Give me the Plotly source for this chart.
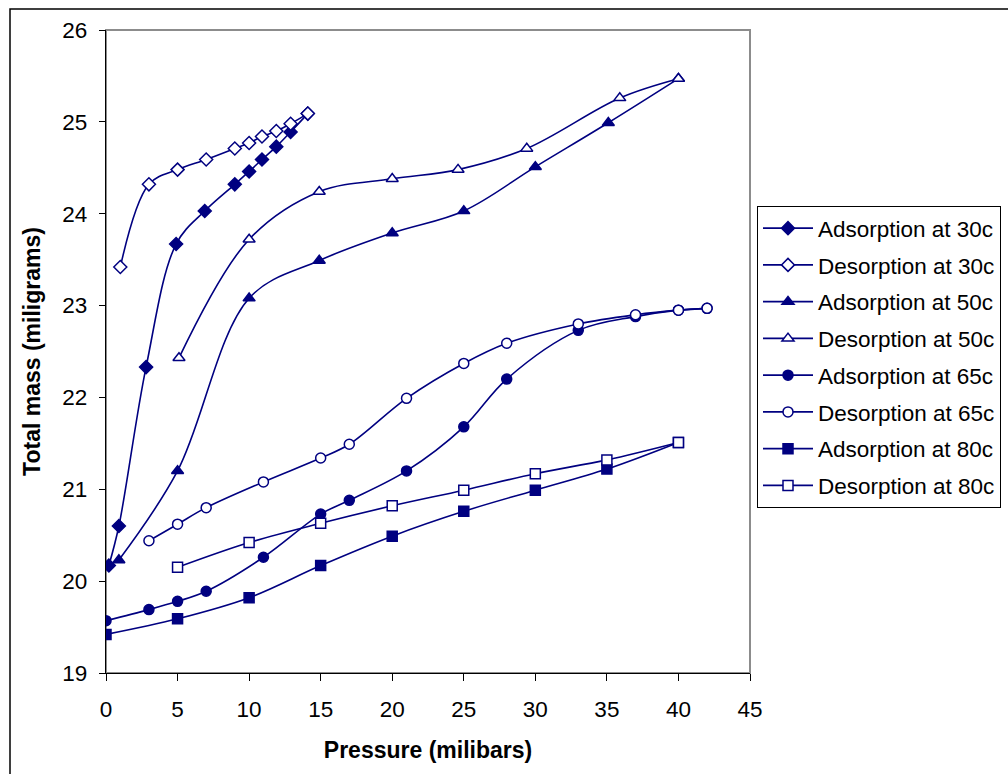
import plotly.graph_objects as go

# Pressure (milibars) and total mass (miligrams) for each isotherm run
ads30_p = [0.2, 0.9, 2.8, 4.9, 6.9, 9.0, 10.0, 10.9, 11.9, 12.9, 14.1]
ads30_m = [20.17, 20.60, 22.33, 23.67, 24.03, 24.32, 24.46, 24.59, 24.73, 24.89, 25.09]

des30_p = [14.1, 12.9, 11.9, 10.9, 10.0, 9.0, 7.0, 5.0, 3.0, 1.0]
des30_m = [25.09, 24.98, 24.90, 24.84, 24.77, 24.71, 24.59, 24.48, 24.32, 23.42]

ads50_p = [0.9, 5.0, 10.0, 14.9, 20.0, 25.0, 30.0, 35.1, 40.0]
ads50_m = [20.23, 21.20, 23.08, 23.49, 23.79, 24.03, 24.51, 24.99, 25.47]

des50_p = [40.0, 35.9, 29.4, 24.6, 20.0, 14.9, 10.0, 5.1]
des50_m = [25.47, 25.26, 24.71, 24.48, 24.38, 24.24, 23.72, 22.43]

ads65_p = [0.0, 3.0, 5.0, 7.0, 11.0, 15.0, 17.0, 21.0, 25.0, 28.0, 33.0, 37.0, 40.0, 42.0]
ads65_m = [19.57, 19.69, 19.78, 19.89, 20.26, 20.73, 20.88, 21.20, 21.68, 22.20, 22.73, 22.88, 22.95, 22.97]

des65_p = [42.0, 40.0, 37.0, 33.0, 28.0, 25.0, 21.0, 17.0, 15.0, 11.0, 7.0, 5.0, 3.0]
des65_m = [22.97, 22.95, 22.90, 22.80, 22.59, 22.37, 21.99, 21.49, 21.34, 21.08, 20.80, 20.62, 20.44]

ads80_p = [0.0, 5.0, 10.0, 15.0, 20.0, 25.0, 30.0, 35.0, 40.0]
ads80_m = [19.42, 19.59, 19.82, 20.17, 20.49, 20.76, 20.99, 21.22, 21.51]

des80_p = [40.0, 35.0, 30.0, 25.0, 20.0, 15.0, 10.0, 5.0]
des80_m = [21.51, 21.32, 21.17, 20.99, 20.82, 20.63, 20.42, 20.15]

series = [
    ("Adsorption at 30c", ads30_p, ads30_m, "diamond", True, 10),
    ("Desorption at 30c", des30_p, des30_m, "diamond", False, 10),
    ("Adsorption at 50c", ads50_p, ads50_m, "triangle-up", True, 10.5),
    ("Desorption at 50c", des50_p, des50_m, "triangle-up", False, 10.5),
    ("Adsorption at 65c", ads65_p, ads65_m, "circle", True, 10),
    ("Desorption at 65c", des65_p, des65_m, "circle", False, 10),
    ("Adsorption at 80c", ads80_p, ads80_m, "square", True, 10),
    ("Desorption at 80c", des80_p, des80_m, "square", False, 10),
]

NAVY = "#000080"
FONT = "Arial, Liberation Sans, sans-serif"
TXT = 22.5

fig = go.Figure()
for i, (name, p, m, sym, filled, size) in enumerate(series):
    fig.add_trace(go.Scatter(
        x=p, y=m, name=name, mode="lines+markers",
        legendgroup=f"g{i}",
        line=dict(color=NAVY, width=1.6, shape="spline", smoothing=1.0),
        marker=dict(symbol=sym, size=size,
                    color=NAVY if filled else "white",
                    line=dict(color=NAVY, width=1.5)),
    ))

W, H = 1008, 774
ml, mr, mt, mb = 106, 258, 30, 101
pw, ph = W - ml - mr, H - mt - mb

def px_x(v):
    return (v - ml) / pw

def px_y(v):
    return (H - mb - v) / ph

fig.update_layout(
    width=W, height=H,
    margin=dict(l=ml, r=mr, t=mt, b=mb, pad=0, autoexpand=False),
    paper_bgcolor="white", plot_bgcolor="white",
    font=dict(family=FONT, size=TXT, color="black"),
    showlegend=True,
    legend=dict(
        x=px_x(757), y=px_y(206), xanchor="left", yanchor="top",
        bordercolor="black", borderwidth=1, bgcolor="white",
        font=dict(family=FONT, size=TXT, color="black"),
        tracegroupgap=4.5, itemwidth=50,
    ),
    xaxis=dict(
        range=[0, 45], dtick=5, tick0=0,
        showgrid=False, zeroline=False,
        showline=True, linecolor="black", linewidth=1.2,
        ticks="outside", ticklen=7, tickcolor="black",
        ticklabelstandoff=9,
        title=dict(text="<b>Pressure (milibars)</b>", font=dict(size=23), standoff=20),
    ),
    yaxis=dict(
        range=[19, 26], dtick=1, tick0=19,
        showgrid=False, zeroline=False,
        showline=True, linecolor="black", linewidth=1.2,
        ticks="outside", ticklen=6, tickcolor="black",
        ticklabelstandoff=7,
        title=dict(text="<b>Total mass (miligrams)</b>", font=dict(size=23), standoff=15),
    ),
    shapes=[
        # plot area frame
        dict(type="rect", xref="paper", yref="paper", x0=0, y0=0, x1=1, y1=1,
             line=dict(color="#8c8c8c", width=2), layer="below"),
        # chart area frame
        dict(type="rect", xref="paper", yref="paper",
             x0=px_x(10), y0=px_y(H + 50), x1=px_x(W + 50), y1=px_y(9),
             line=dict(color="black", width=1.5), layer="below"),
    ],
)

fig.write_html("out.html")
